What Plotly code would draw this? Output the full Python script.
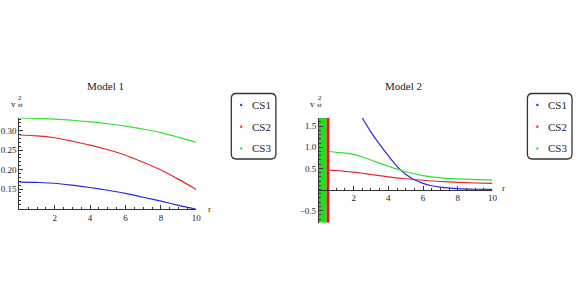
import plotly.graph_objects as go

W, H = 581, 305

# ---------------- data ----------------
# Model 1
r1 = [0, 1, 2, 3, 4, 5, 6, 7, 8, 9, 10]
m1_cs1 = [0.168, 0.167, 0.165, 0.160, 0.154, 0.147, 0.139, 0.129, 0.119, 0.108, 0.098]
m1_cs2 = [0.289, 0.287, 0.282, 0.273, 0.263, 0.251, 0.237, 0.219, 0.199, 0.175, 0.149]
m1_cs3 = [0.333, 0.332, 0.330, 0.327, 0.323, 0.318, 0.312, 0.304, 0.295, 0.283, 0.270]

# Model 2
r2_cs1 = [2.5, 3, 3.5, 4, 4.5, 5, 5.5, 6, 6.5, 7, 8, 9, 10]
m2_cs1 = [1.70, 1.36, 1.07, 0.80, 0.55, 0.36, 0.23, 0.145, 0.09, 0.055, 0.02, 0.007, 0.003]
r2 = [0.6, 1, 1.5, 2, 2.5, 3, 3.5, 4, 5, 6, 7, 8, 9, 10]
m2_cs2 = [0.46, 0.45, 0.43, 0.41, 0.385, 0.355, 0.33, 0.30, 0.255, 0.22, 0.19, 0.17, 0.155, 0.145]
m2_cs3 = [0.90, 0.88, 0.86, 0.83, 0.77, 0.70, 0.62, 0.55, 0.42, 0.33, 0.275, 0.25, 0.235, 0.23]
# oscillating (dense) regions near r=0 in Model 2, shown as solid bands
band_cs3 = [0.0, 0.44]
band_cs2 = [0.44, 0.60]

names = ["CS1", "CS2", "CS3"]
colors = ["rgb(40,40,225)", "rgb(230,40,40)", "rgb(50,225,50)"]
band_colors = ["rgb(230,20,20)", "rgb(30,225,30)"]

y1_range = [0.098, 0.3335]
y2_range = [-0.785, 1.70]

x1_ticks = [2, 4, 6, 8, 10]
y1_ticks = [0.15, 0.20, 0.25, 0.30]
x2_ticks = [2, 4, 6, 8, 10]
y2_ticks = [-0.5, 0.5, 1.0, 1.5]
y2_ticktext = ["\u22120.5", "0.5", "1.0", "1.5"]

FONT = "Liberation Serif"
AX = "#333333"

def px(x):
    return x / W

def py(y):
    return 1 - y / H

fig = go.Figure()

# Model 1 curves
for vals, c in zip([m1_cs1, m1_cs2, m1_cs3], colors):
    fig.add_trace(go.Scatter(x=r1, y=vals, mode="lines",
                             line=dict(color=c, width=1.2, shape="spline", smoothing=0.8),
                             xaxis="x", yaxis="y", showlegend=False, hoverinfo="skip"))

# Model 2 bands
for band, c in zip([band_cs3, band_cs2], [band_colors[1], band_colors[0]]):
    fig.add_trace(go.Scatter(x=[band[0], band[1], band[1], band[0], band[0]],
                             y=[y2_range[0], y2_range[0], y2_range[1], y2_range[1], y2_range[0]],
                             mode="lines", fill="toself", fillcolor=c, line=dict(color=c, width=0),
                             xaxis="x2", yaxis="y2", showlegend=False, hoverinfo="skip"))

# Model 2 curves
for xs, vals, c in zip([r2_cs1, r2, r2], [m2_cs1, m2_cs2, m2_cs3], colors):
    fig.add_trace(go.Scatter(x=xs, y=vals, mode="lines",
                             line=dict(color=c, width=1.2, shape="spline", smoothing=0.8),
                             xaxis="x2", yaxis="y2", showlegend=False, hoverinfo="skip"))

tickfont = dict(family=FONT, size=9, color="#222")
common = dict(showgrid=False, zeroline=False, showline=True, linecolor=AX, linewidth=1,
              ticks="inside", ticklen=4, tickcolor=AX, tickwidth=1, tickfont=tickfont)

fig.update_layout(
    width=W, height=H,
    margin=dict(l=0, r=0, t=0, b=0),
    paper_bgcolor="white", plot_bgcolor="white",
    xaxis=dict(domain=[px(19.5), px(198)], range=[0, 10], anchor="y",
               tickvals=x1_ticks, ticktext=[str(v) for v in x1_ticks],
               minor=dict(dtick=0.5, tick0=0, ticks="inside", ticklen=2, tickcolor=AX),
               **common),
    yaxis=dict(domain=[py(209.3), py(117.7)], range=y1_range, anchor="x",
               tickvals=y1_ticks, ticktext=["%.2f" % v for v in y1_ticks],
               minor=dict(dtick=0.01, tick0=0, ticks="inside", ticklen=2, tickcolor=AX),
               **common),
    xaxis2=dict(domain=[px(321.7), px(496.7)], range=[0, 10], anchor="free",
                position=py(189.5),
                tickvals=x2_ticks, ticktext=[str(v) for v in x2_ticks],
                minor=dict(dtick=0.5, tick0=0, ticks="inside", ticklen=2, tickcolor=AX),
                **common),
    yaxis2=dict(domain=[py(222.7), py(117.7)], range=y2_range, anchor="x2",
                tickvals=y2_ticks, ticktext=y2_ticktext,
                minor=dict(dtick=0.1, tick0=0, ticks="inside", ticklen=2, tickcolor=AX),
                **common),
)

ann = []
shapes = []

def label(x, y, text, size, xanchor="center", yanchor="middle"):
    ann.append(dict(x=px(x), y=py(y), xref="paper", yref="paper", text=text, showarrow=False,
                    xanchor=xanchor, yanchor=yanchor, font=dict(family=FONT, size=size, color="#222"),
                    borderpad=0))

# titles
label(106.7, 86, "Model 1", 11)
label(406.7, 86, "Model 2", 11)

# axis labels  v_st^2
for vx in [17, 319]:
    label(vx, 104, "v", 9, xanchor="right")
    label(vx + 0.5, 98, "2", 7, xanchor="left")
    label(vx, 105, "st", 7, xanchor="left")
label(211, 209, "r", 9)
label(508, 188, "r", 9)

# legends
def rounded_rect(x0, y0, x1, y1, rad):
    X0, X1 = px(x0), px(x1)
    Y0, Y1 = py(y0), py(y1)
    rx, ry = rad / W, rad / H
    return (f"M {X0+rx},{Y0} L {X1-rx},{Y0} Q {X1},{Y0} {X1},{Y0-ry} "
            f"L {X1},{Y1+ry} Q {X1},{Y1} {X1-rx},{Y1} L {X0+rx},{Y1} Q {X0},{Y1} {X0},{Y1+ry} "
            f"L {X0},{Y0-ry} Q {X0},{Y0} {X0+rx},{Y0} Z")

for bx in [233.3, 532]:
    shapes.append(dict(type="path", xref="paper", yref="paper",
                       path=rounded_rect(bx, 93.5, bx + 45, 159, 5),
                       line=dict(color="#333", width=1.3), fillcolor="rgba(0,0,0,0)"))
    for i, (n, c) in enumerate(zip(names, colors)):
        yy = 105 + i * 21.7
        shapes.append(dict(type="circle", xref="paper", yref="paper",
                           x0=px(bx + 9), x1=px(bx + 11), y0=py(yy + 1), y1=py(yy - 1),
                           fillcolor=c, line=dict(color=c, width=0.5)))
        label(bx + 20, yy, n, 11, xanchor="left")

fig.update_layout(annotations=ann, shapes=shapes)

fig.write_html("out.html", post_script="document.body.style.margin='0px';",
               config={"displayModeBar": False})
